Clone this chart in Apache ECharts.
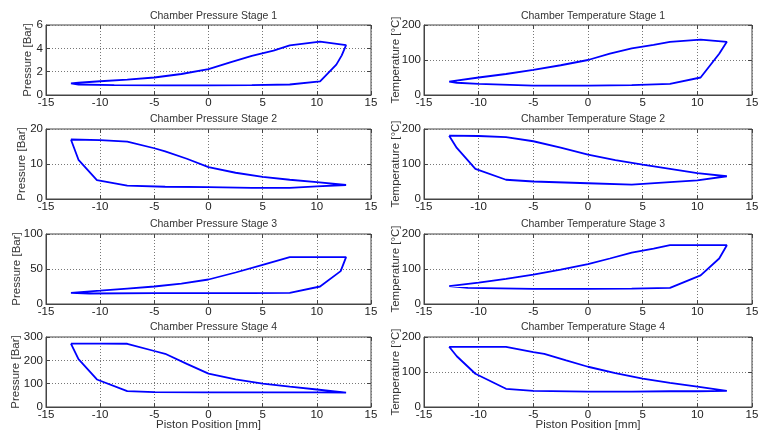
<!DOCTYPE html>
<html><head><meta charset="utf-8">
<script src="https://cdn.jsdelivr.net/npm/echarts@6/dist/echarts.min.js"></script>
<style>html,body{margin:0;padding:0;background:#fff}#c{width:762px;height:436px}</style>
</head><body><div id="c"></div>
<script>
// ---- data (piston position [mm] vs value), closed loops ----
const p1X = [-12.7,-12,-10,-7.5,-5,-2.5,0,2,4,6,7.5,10.3,12.7,12.3,11.8,10.3,7.5,4,0,-4,-8.7,-12,-12.7];
const p1Y = [1.0,1.05,1.18,1.32,1.5,1.8,2.22,2.8,3.35,3.8,4.25,4.57,4.28,3.4,2.6,1.17,0.9,0.84,0.83,0.83,0.84,0.9,1.0];
const t1X = [-12.7,-10,-7.5,-5,-2.5,0,2,4,6,7.5,10.3,12.7,12,10.3,7.5,4,0,-5,-10,-12,-12.7];
const t1Y = [38,50,60,72,85,100,118,133,143,152,158,152,118,50,32,28,27,27,32,35,38];
const p2X = [-12.7,-10,-7.5,-5,-4,-2,0,2.5,5,7.5,10,12.7,10,7.5,4,0,-4,-7.5,-10.3,-12,-12.7];
const p2Y = [17,16.8,16.4,14.5,13.6,11.5,9.1,7.5,6.3,5.5,4.8,4.0,3.6,3.2,3.2,3.4,3.5,3.8,5.4,11.2,17];
const t2X = [-12.7,-10,-7.5,-5,-2.5,0,2.5,5,7.5,10,12.7,10,7.5,4,0,-5,-7.5,-10.3,-12,-12.7];
const t2Y = [181,180,177,165,147,127,111,98,86,74,65,53,48,41,45,50,55,86,146,181];
const p3X = [-12.7,-10,-7.5,-5,-2.5,0,2.5,5,7.5,10,12.7,12.2,10.3,7.5,4,0,-5,-11,-12.7];
const p3Y = [16,19,22,25,29,35,45,56,67,67,67,47,25,16,15.5,15.5,15.5,15,16];
const t3X = [-12.7,-10,-7.5,-5,-2.5,0,2,4,6,7.5,10,12.7,12,10.3,7.5,4,0,-5,-11,-12.7];
const t3Y = [51,61,72,84,98,114,130,147,158,168,168,168,130,82,46,44,43,43,46,51];
const p4X = [-12.7,-10,-7.5,-5,-4,-2,0,2.5,5,7.5,10,12.7,10,7.5,4,0,-5,-7.5,-10.3,-12,-12.7];
const p4Y = [272,272,271,240,228,185,143,118,100,87,75,62,63,63,63,63,64,68,118,205,272];
const t4X = [-12.7,-10,-7.5,-5,-4,-2,0,2.5,5,7.5,10,12.7,10,7.5,4,0,-5,-7.5,-10.3,-12,-12.7];
const t4Y = [172,172,172,157,152,133,115,97,81,69,58,46,45,45,44,44,46,52,95,145,172];

const titles = ["Chamber Pressure Stage 1","Chamber Temperature Stage 1","Chamber Pressure Stage 2","Chamber Temperature Stage 2",
  "Chamber Pressure Stage 3","Chamber Temperature Stage 3","Chamber Pressure Stage 4","Chamber Temperature Stage 4"];
const yNames = ["Pressure [Bar]","Temperature [°C]"];
const yMax = [6,200,20,200,100,200,300,200];
const yInt = [2,100,10,100,50,100,100,100];
const xName = "Piston Position [mm]";
const xs = [p1X,t1X,p2X,t2X,p3X,t3X,p4X,t4X];
const ys = [p1Y,t1Y,p2Y,t2Y,p3Y,t3Y,p4Y,t4Y];

// ---- layout ----
const font = "'Liberation Sans', Arial, sans-serif";
const colLeft = [46, 424], colW = [325, 328];
const rowTop = [25, 129, 234, 337], rowH = 70;
const titleTop = [6, 109, 214, 317];
const yNameGap = [12, 22, 18, 22, 23, 22, 24, 22];

const grid = [], xAxis = [], yAxis = [], series = [], title = [];
const tickCol = '#444';
for (let i = 0; i < 8; i++) {
  const c = i % 2, r = Math.floor(i / 2);
  grid.push({left: colLeft[c], top: rowTop[r], width: colW[c], height: rowH, show: true,
    borderColor: tickCol, borderWidth: 1, backgroundColor: '#fff'});
  title.push({text: titles[i], left: colLeft[c] + colW[c] / 2, textAlign: 'center', top: titleTop[r],
    textStyle: {fontFamily: font, fontSize: 10.5, fontWeight: 'normal', color: '#333'}});
}
for (let i = 0; i < 8; i++) {
  const c = i % 2, r = Math.floor(i / 2);
  xAxis.push({type: 'value', gridIndex: i, min: -15, max: 15, interval: 5, position: 'bottom',
    name: r === 3 ? xName : '', nameLocation: 'middle', nameGap: 12, nameMoveOverlap: false,
    nameTextStyle: {fontFamily: font, fontSize: 11.5, color: '#333', verticalAlign: 'top'},
    axisLine: {show: true, onZero: false, lineStyle: {color: tickCol}},
    axisTick: {show: true, inside: true, length: 4, lineStyle: {color: tickCol}},
    axisLabel: {fontFamily: font, fontSize: 11.5, color: '#222', margin: 2},
    splitLine: {show: true, lineStyle: {type: [1, 2], color: '#777'}}});
  yAxis.push({type: 'value', gridIndex: i, min: 0, max: yMax[i], interval: yInt[i], position: 'left',
    name: yNames[c], nameLocation: 'middle', nameRotate: 90, nameGap: yNameGap[i], nameMoveOverlap: false,
    nameTextStyle: {fontFamily: font, fontSize: 11.5, color: '#333'},
    axisLine: {show: true, onZero: false, lineStyle: {color: tickCol}},
    axisTick: {show: true, inside: true, length: 4, lineStyle: {color: tickCol}},
    axisLabel: {fontFamily: font, fontSize: 11.5, color: '#222', margin: 3},
    splitLine: {show: true, lineStyle: {type: [1, 2], color: '#777'}}});
  series.push({type: 'line', xAxisIndex: i, yAxisIndex: i, showSymbol: false, smooth: false,
    lineStyle: {color: '#0000ff', width: 1.8}, animation: false,
    data: xs[i].map((x, k) => [x, ys[i][k]])});
}
// mirrored top/right ticks (box style)
for (let i = 0; i < 8; i++) {
  xAxis.push({type: 'value', gridIndex: i, min: -15, max: 15, interval: 5, position: 'top',
    axisLine: {show: false, onZero: false}, axisLabel: {show: false}, splitLine: {show: false},
    axisTick: {show: true, inside: true, length: 4, lineStyle: {color: tickCol}}});
  yAxis.push({type: 'value', gridIndex: i, min: 0, max: yMax[i], interval: yInt[i], position: 'right',
    axisLine: {show: false, onZero: false}, axisLabel: {show: false}, splitLine: {show: false},
    axisTick: {show: true, inside: true, length: 4, lineStyle: {color: tickCol}}});
}

const chart = echarts.init(document.getElementById('c'), null, {renderer: 'canvas'});
chart.setOption({animation: false, backgroundColor: '#fff', title, grid, xAxis, yAxis, series});
</script></body></html>
